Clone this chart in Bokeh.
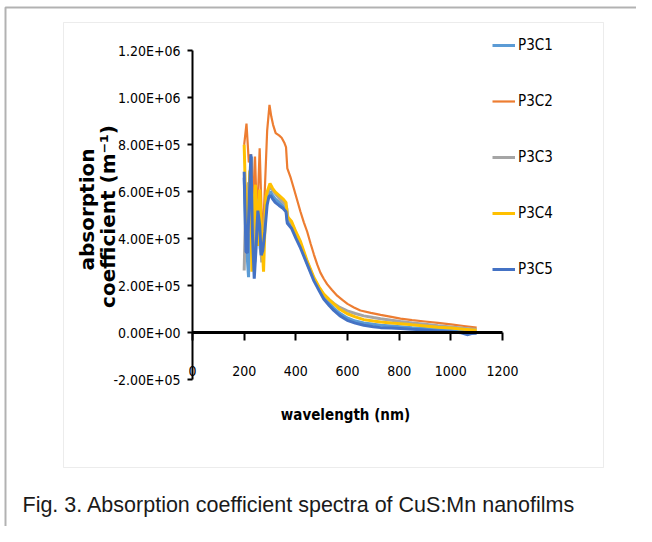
import math
from bokeh.plotting import figure
from bokeh.models import (Range1d, FixedTicker, LinearAxis, Label, BoxAnnotation,
                          Legend, LegendItem)
from bokeh.embed import file_html
from bokeh.resources import INLINE

# ---------------- data ----------------
series_names = ["P3C1", "P3C2", "P3C3", "P3C4", "P3C5"]

wl1 = [200, 206, 212, 217, 223, 229, 235, 241, 248, 255, 262, 268, 275, 282, 289, 296, 302, 310,
       320, 335, 350, 362, 367, 383, 400, 418, 444, 470, 490, 508, 530, 547, 570, 599, 630, 663,
       700, 728, 770, 805, 850, 900, 950, 1000, 1050, 1100]
p3c1 = [6.6e5, 4.2e5, 3.2e5, 2.37e5, 6.8e5, 7.5e5, 4.0e5, 3.0e5, 4.6e5, 5.3e5, 3.6e5, 3.2e5, 4.0e5,
        5.0e5, 5.6e5, 5.95e5, 6.0e5, 5.85e5, 5.7e5, 5.55e5, 5.4e5, 5.25e5, 4.75e5, 4.55e5, 4.15e5,
        3.72e5, 3.0e5, 2.3e5, 1.9e5, 1.55e5, 1.25e5, 1.05e5, 8.3e4, 6.3e4, 5.0e4, 4.2e4, 3.6e4,
        3.2e4, 2.9e4, 2.6e4, 2.2e4, 1.8e4, 1.4e4, 1.0e4, 6e3, 3e3]

wl2 = [200, 209, 218, 226, 235, 242, 250, 260, 271, 280, 289, 298, 305, 312, 322, 335, 345, 355,
       362, 367, 380, 392, 405, 418, 431, 444, 457, 470, 483, 495, 508, 521, 540, 560, 580, 600,
       625, 650, 690, 728, 770, 805, 850, 900, 950, 1000, 1050, 1100]
p3c2 = [8.0e5, 8.9e5, 7.25e5, 7.6e5, 5.6e5, 7.5e5, 4.7e5, 7.85e5, 3.8e5, 6.1e5, 8.6e5, 9.7e5,
        9.2e5, 8.85e5, 8.5e5, 8.4e5, 8.3e5, 8.1e5, 7.9e5, 7.0e5, 6.6e5, 6.15e5, 5.65e5, 5.15e5,
        4.7e5, 4.3e5, 3.8e5, 3.33e5, 2.9e5, 2.56e5, 2.3e5, 2.07e5, 1.82e5, 1.58e5, 1.4e5, 1.23e5,
        1.08e5, 9.5e4, 8.5e4, 7.6e4, 6.8e4, 6.0e4, 5.4e4, 4.8e4, 4.2e4, 3.6e4, 2.9e4, 2.2e4]

wl3 = [200, 205, 210, 216, 222, 228, 234, 240, 247, 254, 261, 268, 275, 282, 290, 298, 305, 315,
       330, 345, 360, 365, 370, 385, 400, 418, 444, 470, 490, 508, 530, 547, 570, 599, 630, 663,
       700, 728, 770, 805, 850, 900, 950, 1000, 1050, 1100]
p3c3 = [2.65e5, 5.0e5, 6.0e5, 6.4e5, 4.2e5, 6.6e5, 3.5e5, 5.9e5, 3.9e5, 5.7e5, 4.2e5, 3.0e5, 3.6e5,
        5.4e5, 5.9e5, 6.2e5, 6.15e5, 6.0e5, 5.8e5, 5.6e5, 5.45e5, 5.3e5, 4.85e5, 4.65e5, 4.25e5,
        3.8e5, 2.95e5, 2.28e5, 1.9e5, 1.62e5, 1.4e5, 1.25e5, 1.08e5, 9.3e4, 8.2e4, 7.2e4, 6.5e4,
        6.0e4, 5.3e4, 4.8e4, 4.2e4, 3.6e4, 3.0e4, 2.5e4, 1.9e4, 1.4e4]

wl4 = [200, 206, 214, 222, 230, 238, 244, 252, 260, 267, 275, 284, 292, 300, 310, 320, 335, 350,
       362, 367, 383, 400, 418, 444, 470, 490, 508, 530, 547, 570, 599, 630, 663, 700, 728, 770,
       805, 850, 900, 950, 1000, 1050, 1100]
p3c4 = [8.0e5, 5.5e5, 4.5e5, 6.9e5, 2.6e5, 5.6e5, 6.3e5, 3.7e5, 6.1e5, 4.4e5, 2.6e5, 5.8e5, 6.1e5,
        6.35e5, 6.15e5, 6.0e5, 5.85e5, 5.7e5, 5.55e5, 4.95e5, 4.75e5, 4.3e5, 3.89e5, 3.05e5,
        2.35e5, 1.95e5, 1.65e5, 1.4e5, 1.23e5, 1.0e5, 8.1e4, 6.8e4, 5.6e4, 5.0e4, 4.6e4, 4.2e4,
        3.9e4, 3.4e4, 2.9e4, 2.4e4, 2.0e4, 1.5e4, 1.1e4]

wl5 = [200, 207, 213, 219, 226, 232, 239, 246, 253, 260, 266, 272, 280, 289, 296, 302, 310, 320,
       335, 350, 362, 367, 383, 400, 418, 444, 470, 490, 508, 530, 547, 570, 599, 630, 663, 700,
       728, 770, 805, 850, 900, 950, 1000, 1040, 1063, 1080, 1100]
p3c5 = [6.85e5, 3.45e5, 3.4e5, 5.5e5, 7.6e5, 4.2e5, 2.3e5, 3.6e5, 5.2e5, 4.6e5, 3.3e5, 3.5e5, 4.3e5,
        5.45e5, 5.8e5, 5.85e5, 5.7e5, 5.55e5, 5.42e5, 5.3e5, 5.15e5, 4.66e5, 4.45e5, 4.03e5,
        3.61e5, 2.91e5, 2.21e5, 1.8e5, 1.44e5, 1.15e5, 9.5e4, 7.3e4, 5.3e4, 4.1e4, 3.2e4, 2.6e4,
        2.2e4, 2.0e4, 1.8e4, 1.5e4, 1.2e4, 8e3, 4e3, 0, -8e3, -3e3, -2e3]

x_ticks = [0, 200, 400, 600, 800, 1000, 1200]
y_ticks = [-200000, 0, 200000, 400000, 600000, 800000, 1000000, 1200000]
y_tick_labels = ["-2.00E+05", "0.00E+00", "2.00E+05", "4.00E+05", "6.00E+05",
                 "8.00E+05", "1.00E+06", "1.20E+06"]

x_title = "wavelength (nm)"
y_title_1 = "absorption"
y_title_2 = "coefficient (m\u207b\u00b9)"
caption = "Fig. 3. Absorption coefficient spectra of CuS:Mn nanofilms"

colors = ["#5B9BD5", "#ED7D31", "#A5A5A5", "#FFC000", "#4472C4"]
widths = [3, 2.2, 3, 3, 3]

COND = "DejaVu Sans Condensed"

W, H = 636, 526

# pixel -> data helpers (used only to place the decorations around the chart)
def dx(px):
    return (px - 192) * (1200 / 310)

def dy(py):
    return (332.3 - py) * (1400000 / 329)

# ---------------- figure ----------------
p = figure(width=W, height=H, output_backend="svg", toolbar_location=None,
           x_range=Range1d(dx(0), dx(W)), y_range=Range1d(dy(H), dy(0)),
           x_axis_location=None, y_axis_location=None,
           min_border=0, min_border_left=0, min_border_right=0,
           min_border_top=0, min_border_bottom=0)
p.outline_line_color = None
p.grid.visible = False
p.background_fill_color = "white"
p.border_fill_color = "white"

# chart-area box (light gray) and outer black frame
p.add_layout(BoxAnnotation(left=dx(63), right=dx(603), top=dy(22), bottom=dy(467),
                           fill_alpha=0, line_color="#BFBFBF", line_width=1, level="underlay"))
p.add_layout(BoxAnnotation(left=dx(5), right=dx(900), top=dy(7), bottom=dy(900),
                           fill_alpha=0, line_color="black", line_width=2, level="underlay"))

# y axis at x = 0
ya = LinearAxis(fixed_location=0, bounds=(-200000, 1200000),
                ticker=FixedTicker(ticks=y_ticks),
                major_label_overrides={t: s for t, s in zip(y_ticks, y_tick_labels)},
                axis_line_width=2, axis_line_color="black",
                major_tick_in=0, major_tick_out=5, major_tick_line_width=2,
                major_tick_line_color="black", minor_tick_line_color=None,
                major_label_standoff=7, major_label_text_font=COND,
                major_label_text_font_size="14px", major_label_text_color="black")
p.add_layout(ya, "left")

# x tick labels, low (at the bottom of the plot area)
xl = LinearAxis(fixed_location=dy(365), bounds=(0, 1200), ticker=FixedTicker(ticks=x_ticks),
                axis_line_color=None, major_tick_line_color=None, minor_tick_line_color=None,
                major_tick_in=0, major_tick_out=0, major_label_standoff=0,
                major_label_text_font=COND, major_label_text_font_size="14px",
                major_label_text_color="black")
p.add_layout(xl, "below")

# x axis line at y = 0
x0 = LinearAxis(fixed_location=0, bounds=(0, 1200), ticker=FixedTicker(ticks=x_ticks),
                major_label_overrides={t: "" for t in x_ticks},
                axis_line_width=3, axis_line_color="black",
                major_tick_in=0, major_tick_out=8, major_tick_line_width=2,
                major_tick_line_color="black", minor_tick_line_color=None)
p.add_layout(x0, "below")

# series
items = []
for name, wl, vals, c, w in zip(series_names, [wl1, wl2, wl3, wl4, wl5],
                                [p3c1, p3c2, p3c3, p3c4, p3c5], colors, widths):
    r = p.line(wl, vals, line_color=c, line_width=w)
    items.append(LegendItem(label=name, renderers=[r]))

legend = Legend(items=items, location=(492, H - 279), orientation="vertical",
                padding=0, margin=0, spacing=36, glyph_width=23, glyph_height=20,
                label_height=20, label_standoff=3, label_text_font=COND,
                label_text_font_size="15px", label_text_color="black",
                label_text_baseline="middle",
                background_fill_alpha=0, border_line_alpha=0)
p.add_layout(legend)

# axis titles
p.add_layout(Label(x=dx(345), y=dy(414), text=x_title, text_align="center",
                   text_baseline="middle", text_font=COND, text_font_style="bold",
                   text_font_size="15px", text_color="black"))
p.add_layout(Label(x=dx(86), y=dy(209), text=y_title_1, text_align="center",
                   text_baseline="middle", angle=math.pi / 2, text_font="DejaVu Sans",
                   text_font_style="bold", text_font_size="20px", text_color="black"))
p.add_layout(Label(x=dx(107), y=dy(216), text=y_title_2, text_align="center",
                   text_baseline="middle", angle=math.pi / 2, text_font="DejaVu Sans",
                   text_font_style="bold", text_font_size="20px", text_color="black"))

# caption
p.add_layout(Label(x=dx(22), y=dy(504), text=caption, text_align="left",
                   text_baseline="middle", text_font="Liberation Sans",
                   text_font_size="21.5px", text_color="#1a1a1a"))

open("out.html", "w").write(file_html(p, INLINE))
